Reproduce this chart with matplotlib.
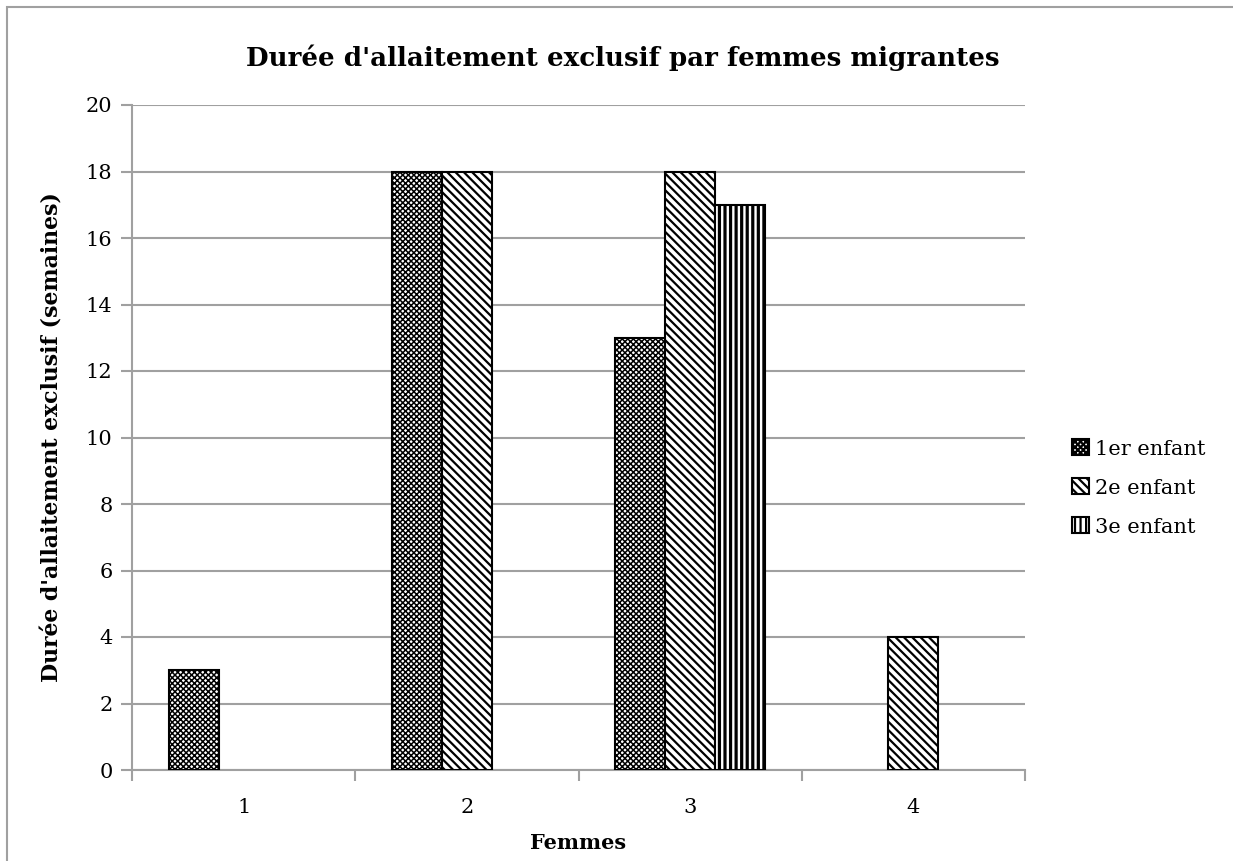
import matplotlib
matplotlib.use('Agg')
import matplotlib.pyplot as plt
import matplotlib.patches as mpatches
import numpy as np

# Data
femmes = ['1', '2', '3', '4']
series = ['1er enfant', '2e enfant', '3e enfant']
enfant1 = [3, 18, 13, 0]
enfant2 = [0, 18, 18, 4]
enfant3 = [0, 0, 17, 0]
hatches = ['xxxxxx', '\\\\\\\\', '|||']
hatch_lw = [1.1, 1.6, 2.3]

plt.rcParams['font.family'] = ['DejaVu Serif']
plt.rcParams['hatch.linewidth'] = 1.6
plt.rcParams['hatch.color'] = 'black'


def set_hatch_lw(patch, lw):
    # per-patch hatch width exists in recent matplotlib only
    try:
        patch.set_hatch_linewidth(lw)
    except AttributeError:
        pass


fig = plt.figure(figsize=(12.33, 8.61), dpi=100)
ax = fig.add_axes([132 / 1233, 1 - 770 / 861, 893 / 1233, 665 / 861])

# outer chart frame (partly cropped in reference)
frame = mpatches.Rectangle((7 / 1233, -0.2), 2.0, 1 - 7 / 861 + 0.2,
                           transform=fig.transFigure, fill=False,
                           edgecolor='#a0a0a0', linewidth=1.5, clip_on=False)
fig.patches.append(frame)

x = np.arange(len(femmes))
w = 0.224
handles = []
for i, (vals, h, lab) in enumerate(zip([enfant1, enfant2, enfant3], hatches, series)):
    vals = np.array(vals, dtype=float)
    keep = vals > 0          # empty values are not drawn at all
    bars = ax.bar(x[keep] + (i - 1) * w, vals[keep], w, facecolor='white',
                  edgecolor='black', hatch=h, linewidth=1.5, zorder=3)
    for b in bars:
        set_hatch_lw(b, hatch_lw[i])
    hp = mpatches.Patch(facecolor='white', edgecolor='black',
                        hatch=h, linewidth=1.5, label=lab)
    set_hatch_lw(hp, hatch_lw[i])
    handles.append(hp)

ax.set_xlim(-0.5, len(femmes) - 0.5)
ax.set_ylim(0, 20)
ax.set_yticks(np.arange(0, 21, 2))
ax.set_xticks(x)
ax.set_xticklabels(femmes, fontsize=15)
ax.set_xticks(np.arange(-0.5, len(femmes), 1), minor=True)
ax.tick_params(axis='x', which='major', length=0, pad=20)
ax.tick_params(axis='x', which='minor', length=8, color='#a0a0a0', width=1.5)
ax.tick_params(axis='y', length=8, color='#a0a0a0', width=1.5, labelsize=15, pad=6)

ax.grid(axis='y', color='#a0a0a0', linewidth=1.5, zorder=0)
ax.set_axisbelow(True)
for s in ['top', 'right']:
    ax.spines[s].set_visible(False)
for s in ['left', 'bottom']:
    ax.spines[s].set_color('#a0a0a0')
    ax.spines[s].set_linewidth(1.5)

ax.set_xlabel('Femmes', fontsize=15, fontweight='bold', labelpad=12)
ax.set_ylabel("Durée d'allaitement exclusif (semaines)", fontsize=15.8,
              fontweight='bold', labelpad=16)

fig.text(0.505, 1 - 58 / 861, "Durée d'allaitement exclusif par femmes migrantes",
         ha='center', va='center', fontsize=18.8, fontweight='bold')

fig.legend(handles=handles, loc='center left',
           bbox_to_anchor=(1062 / 1233, 1 - 488 / 861), frameon=False,
           fontsize=15, handlelength=0.8, handleheight=0.8, handletextpad=0.3,
           labelspacing=0.95, borderpad=0)

fig.savefig('out.png', dpi=100)
